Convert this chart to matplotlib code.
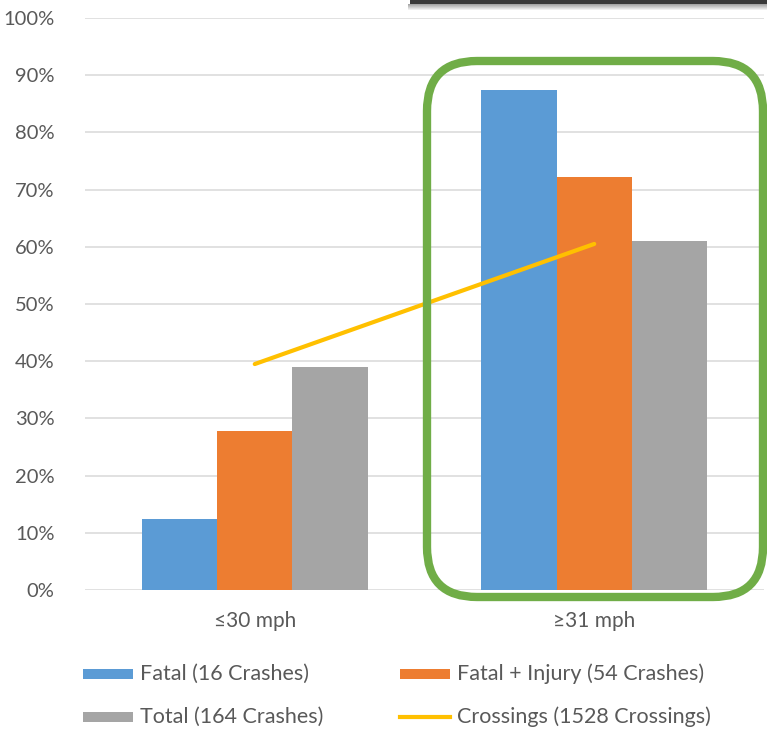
import matplotlib
matplotlib.use("Agg")
import matplotlib.pyplot as plt
import numpy as np
from matplotlib.patches import FancyBboxPatch, Rectangle
from matplotlib.lines import Line2D
from matplotlib.transforms import IdentityTransform
from matplotlib.ticker import FuncFormatter

# ---- data ----
categories = ["\u226430 mph", "\u226531 mph"]
fatal = [0.125, 0.875]            # 2/16, 14/16
fatal_injury = [0.278, 0.722]     # 15/54, 39/54
total = [0.390, 0.610]            # 64/164, 100/164
crossings = [0.395, 0.605]        # share of 1528 crossings
series_labels = ["Fatal (16 Crashes)", "Fatal + Injury (54 Crashes)",
                 "Total (164 Crashes)", "Crossings (1528 Crossings)"]
y_ticks = [0.0, 0.1, 0.2, 0.3, 0.4, 0.5, 0.6, 0.7, 0.8, 0.9, 1.0]

BLUE = "#5B9BD5"
ORANGE = "#ED7D31"
GRAY = "#A5A5A5"
YELLOW = "#FFC000"
GREEN = "#70AD47"
TEXT = "#595959"
GRID = "#D9D9D9"

plt.rcParams["font.family"] = ["Lato", "DejaVu Sans"]

W, H = 767, 731
fig = plt.figure(figsize=(W / 100, H / 100), dpi=100)
fig.patch.set_facecolor("white")

ax = fig.add_axes([85 / W, 1 - 590 / H, (764 - 85) / W, (590 - 18) / H])
x = np.arange(len(categories))
bw = 0.2222
ax.bar(x - bw, fatal, bw, color=BLUE, zorder=2)
ax.bar(x, fatal_injury, bw, color=ORANGE, zorder=2)
ax.bar(x + bw, total, bw, color=GRAY, zorder=2)
ax.plot(x, crossings, color=YELLOW, lw=3.0, solid_capstyle="round", zorder=3)

ax.set_xlim(-0.5, 1.5)
ax.set_ylim(0, 1.0)
ax.set_yticks(y_ticks)
ax.yaxis.set_major_formatter(FuncFormatter(lambda v, p: f"{v * 100:.0f}%"))
ax.set_xticks(x)
ax.set_xticklabels(categories)
ax.grid(axis="y", color=GRID, lw=1.1, zorder=0)
for s in ax.spines.values():
    s.set_visible(False)
ax.tick_params(axis="y", length=0, colors=TEXT, labelsize=14.5, pad=22)
ax.tick_params(axis="x", length=0, colors=TEXT, labelsize=15, pad=15)

# highlight frame around the higher speed group
frame = FancyBboxPatch((427, H - 597), 336, 536,
                       boxstyle="round,pad=0,rounding_size=50",
                       transform=IdentityTransform(), fill=False,
                       ec=GREEN, lw=6, zorder=5)
fig.patches.append(frame)

# edge of an overlapping box along the top right
for i, a in enumerate(np.linspace(0.35, 0.0, 7)):
    fig.patches.append(Rectangle((408, H - 4 - (i + 1) * 1.0), W, 1.0,
                                 transform=IdentityTransform(),
                                 color="black", alpha=a, lw=0, zorder=6))
fig.patches.append(Rectangle((410, H - 4), W, 4, transform=IdentityTransform(),
                             color="#3a3a3a", lw=0, zorder=7))

# legend
def legend_patch(px, py, color, label, line=False):
    if line:
        fig.lines.append(Line2D([px / W, (px + 50) / W], [1 - py / H, 1 - py / H],
                                color=color, lw=3, transform=fig.transFigure))
    else:
        fig.patches.append(Rectangle((px / W, 1 - (py + 5) / H), 50 / W, 10 / H,
                                     transform=fig.transFigure, color=color, lw=0))
    fig.text((px + 57) / W, 1 - py / H, label, color=TEXT, fontsize=15.5,
             ha="left", va="center")

legend_patch(83, 674, BLUE, series_labels[0])
legend_patch(400, 674, ORANGE, series_labels[1])
legend_patch(83, 717, GRAY, series_labels[2])
legend_patch(400, 717, YELLOW, series_labels[3], line=True)

fig.savefig("out.png", dpi=100, facecolor="white")
